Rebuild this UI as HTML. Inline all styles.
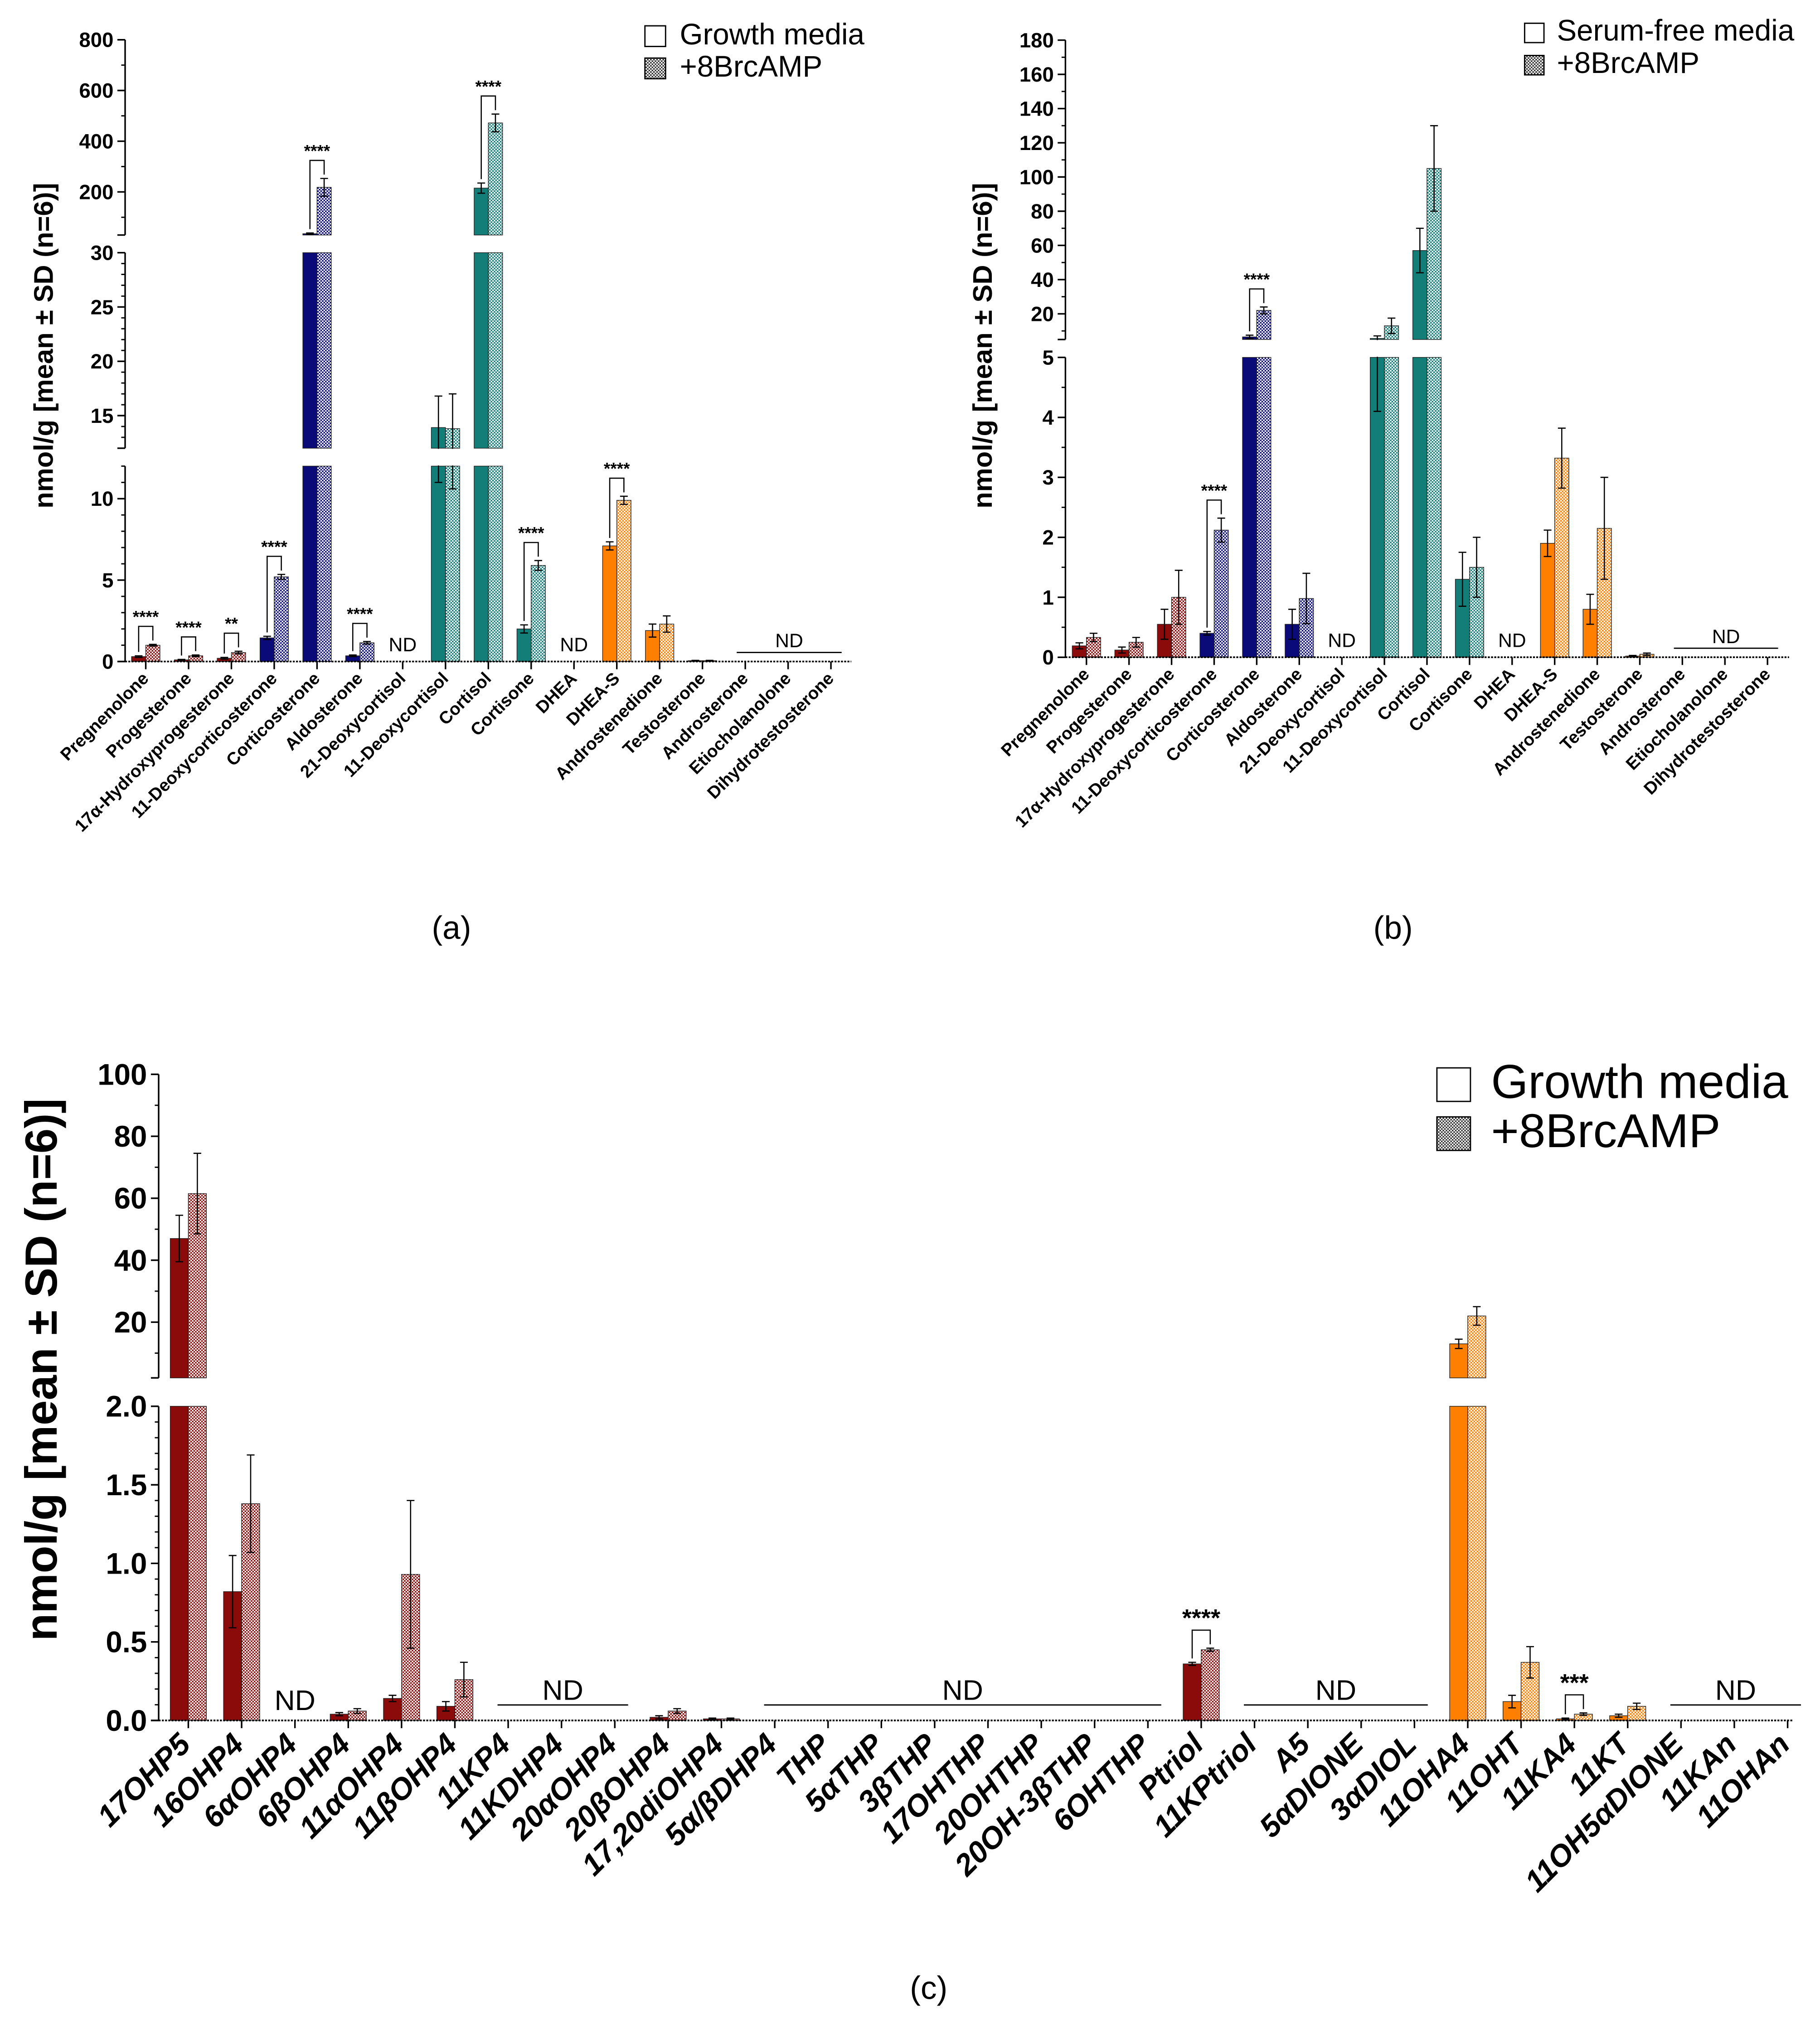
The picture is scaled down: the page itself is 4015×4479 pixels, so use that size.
<!DOCTYPE html>
<html><head><meta charset="utf-8"><style>
html,body{margin:0;padding:0;background:#fff;}
svg{display:block;font-family:"Liberation Sans",sans-serif;}
</style></head><body>
<svg id="chart" width="4015" height="4479" viewBox="0 0 1411 1574" xmlns="http://www.w3.org/2000/svg">
<defs>
<pattern id="chk-red" width="2.4" height="2.4" patternUnits="userSpaceOnUse"><rect width="2.4" height="2.4" fill="#fff"/><rect width="1.2" height="1.2" fill="#8b0a0a"/><rect x="1.2" y="1.2" width="1.2" height="1.2" fill="#8b0a0a"/></pattern>
<pattern id="chk-navy" width="2.4" height="2.4" patternUnits="userSpaceOnUse"><rect width="2.4" height="2.4" fill="#fff"/><rect width="1.2" height="1.2" fill="#0a0a78"/><rect x="1.2" y="1.2" width="1.2" height="1.2" fill="#0a0a78"/></pattern>
<pattern id="chk-teal" width="2.4" height="2.4" patternUnits="userSpaceOnUse"><rect width="2.4" height="2.4" fill="#fff"/><rect width="1.2" height="1.2" fill="#137d78"/><rect x="1.2" y="1.2" width="1.2" height="1.2" fill="#137d78"/></pattern>
<pattern id="chk-orange" width="2.4" height="2.4" patternUnits="userSpaceOnUse"><rect width="2.4" height="2.4" fill="#fff"/><rect width="1.2" height="1.2" fill="#ff8000"/><rect x="1.2" y="1.2" width="1.2" height="1.2" fill="#ff8000"/></pattern>
<pattern id="chk-gray" width="2.4" height="2.4" patternUnits="userSpaceOnUse"><rect width="2.4" height="2.4" fill="#fff"/><rect width="1.2" height="1.2" fill="#333"/><rect x="1.2" y="1.2" width="1.2" height="1.2" fill="#333"/></pattern>
</defs>
</svg>
<script>
// ---------- Panel (a) data ----------
const A_cats = ['Pregnenolone','Progesterone','17α-Hydroxyprogesterone','11-Deoxycorticosterone','Corticosterone','Aldosterone','21-Deoxycortisol','11-Deoxycortisol','Cortisol','Cortisone','DHEA','DHEA-S','Androstenedione','Testosterone','Androsterone','Etiocholanolone','Dihydrotestosterone'];
const A_growth = [0.3,0.1,0.2,1.45,35,0.35,null,13.9,215,2.0,null,7.1,1.9,0.05,null,null,null];
const A_camp = [1.0,0.35,0.55,5.2,218,1.15,null,13.8,472,5.9,null,9.9,2.3,0.05,null,null,null];
const A_growthErr = [0.05,0.03,0.05,0.1,3,0.05,0,2.9,20,0.25,0,0.25,0.4,0.02,0,0,0];
const A_campErr = [0.05,0.05,0.08,0.15,35,0.08,0,3.2,35,0.3,0,0.25,0.5,0.02,0,0,0];
const A_colorIdx = [0,0,0,1,1,1,1,2,2,2,2,3,3,3,3,3,3];
const A_sigIdx = [0,1,2,3,4,5,8,9,11];
const A_sigTxt = ['****','****','**','****','****','****','****','****','****'];
const A_ndSingle = [6,10];
const A_ndLineFrom = [14];
const A_ndLineTo = [16];
// ---------- Panel (b) data ----------
const B_cats = A_cats;
const B_growth = [0.19,0.12,0.55,0.4,6.5,0.55,null,5.6,57,1.3,null,1.9,0.8,0.02,null,null,null];
const B_camp = [0.33,0.25,1.0,2.12,22,0.98,null,13,105,1.5,null,3.32,2.15,0.05,null,null,null];
const B_growthErr = [0.05,0.05,0.25,0.03,1,0.25,0,1.5,13,0.45,0,0.22,0.25,0.01,0,0,0];
const B_campErr = [0.07,0.08,0.45,0.2,2,0.42,0,4.5,25,0.5,0,0.5,0.85,0.02,0,0,0];
const B_colorIdx = A_colorIdx;
const B_sigIdx = [3,4];
const B_sigTxt = ['****','****'];
const B_ndSingle = [6,10];
const B_ndLineFrom = [14];
const B_ndLineTo = [16];
// ---------- Panel (c) data ----------
const C_cats = ['17OHP5','16OHP4','6αOHP4','6βOHP4','11αOHP4','11βOHP4','11KP4','11KDHP4','20αOHP4','20βOHP4','17,20diOHP4','5α/βDHP4','THP','5αTHP','3βTHP','17OHTHP','20OHTHP','20OH-3βTHP','6OHTHP','Ptriol','11KPtriol','A5','5αDIONE','3αDIOL','11OHA4','11OHT','11KA4','11KT','11OH5αDIONE','11KAn','11OHAn'];
const C_growth = [47,0.82,null,0.04,0.14,0.09,null,null,null,0.02,0.01,null,null,null,null,null,null,null,null,0.36,null,null,null,null,13,0.12,0.01,0.03,null,null,null];
const C_camp = [61.5,1.38,null,0.06,0.93,0.26,null,null,null,0.06,0.01,null,null,null,null,null,null,null,null,0.45,null,null,null,null,22,0.37,0.04,0.09,null,null,null];
const C_growthErr = [7.5,0.23,0,0.01,0.02,0.03,0,0,0,0.01,0.005,0,0,0,0,0,0,0,0,0.01,0,0,0,0,1.5,0.04,0.005,0.01,0,0,0];
const C_campErr = [13,0.31,0,0.015,0.47,0.11,0,0,0,0.015,0.005,0,0,0,0,0,0,0,0,0.01,0,0,0,0,3,0.1,0.008,0.02,0,0,0];
const C_colorIdx = [0,0,0,0,0,0,0,0,0,0,0,0,0,0,0,0,0,0,0,0,0,0,0,0,3,3,3,3,3,3,3];
const C_sigIdx = [19,26];
const C_sigTxt = ['****','***'];
const C_ndSingle = [2];
const C_ndLineFrom = [6,11,20,28];
const C_ndLineTo = [8,18,23,30];

const COLORS = ['#8b0a0a','#0a0a78','#137d78','#ff8000'];
const PATS = ['url(#chk-red)','url(#chk-navy)','url(#chk-teal)','url(#chk-orange)'];
const NS = 'http://www.w3.org/2000/svg';
const svg = document.getElementById('chart');
function mk(tag, attrs, parent){
  const e = document.createElementNS(NS, tag);
  for (const k in attrs) e.setAttribute(k, attrs[k]);
  (parent || svg).appendChild(e);
  return e;
}

function drawPanel(p){
  const g = mk('g', {});
  
  
  const segs = p.segs;
  function y(v){
    for (let i = segs.length - 1; i >= 0; i--) {
      const s = segs[i];
      if (v >= s.lo || i === 0) {
        const vv = Math.min(v, s.hi);
        return s.yb - (vv - s.lo) / (s.hi - s.lo) * (s.yb - s.yt);
      }
    }
  }
  function x(i){ return p.x0 + i * p.step; }
  segs.forEach(s => {
    const l = mk('line', {x1:p.ax, x2:p.ax, y1:s.yb, y2:s.yt, stroke:'#000', 'stroke-width':1.2}, g);
    
    
    mk('line', {x1:p.ax-6, x2:p.ax, y1:s.yb, y2:s.yb, stroke:'#000','stroke-width':1.2}, g);
    for (let v = s.minorStart; v <= s.hi + 1e-9; v += s.minor) {
      if (v < s.lo - 1e-9) continue;
      const yy = s.yb - (v - s.lo) / (s.hi - s.lo) * (s.yb - s.yt);
      mk('line', {x1:p.ax-3, x2:p.ax, y1:yy, y2:yy, stroke:'#000','stroke-width':1}, g);
    }
    s.ticks.forEach(v => {
      const yy = s.yb - (v - s.lo) / (s.hi - s.lo) * (s.yb - s.yt);
      mk('line', {x1:p.ax-6, x2:p.ax, y1:yy, y2:yy, stroke:'#000','stroke-width':1.2}, g);
      const t = mk('text', {x:p.ax-9, y:yy + p.tickFs*0.35, 'text-anchor':'end', 'font-size':p.tickFs, 'font-weight':'bold'}, g);
      t.textContent = p.tickFmt(v);
      
      
    });
  });
  const yt = mk('text', {transform:`translate(${p.ytx},${p.yty}) rotate(-90)`, 'text-anchor':'middle', 'font-size':p.ytFs, 'font-weight':'bold'}, g);
  yt.textContent = 'nmol/g [mean ± SD (n=6)]';
  
  
  const y0 = y(0);
  p.cats.forEach((c, i) => {
    const cx = x(i), col = p.colorIdx[i];
    [[p.growth[i], p.growthErr[i], cx - p.bw, COLORS[col], 'growth'], [p.camp[i], p.campErr[i], cx, PATS[col], 'camp']].forEach(b => {
      const v = b[0]; if (v === null) return;
      segs.forEach(s => {
        if (v <= s.lo && s !== segs[0]) return;
        const top = s.yb - (Math.min(v, s.hi) - s.lo) / (s.hi - s.lo) * (s.yb - s.yt);
        const r = mk('rect', {x:b[2], y:top, width:p.bw, height:Math.max(0.6, s.yb - top), fill:b[3], stroke:'#222', 'stroke-width':0.5}, g);
        
        
      });
      const e = b[1];
      if (e > 0) {
        const ex = b[2] + p.bw / 2, yT = y(v + e), yB = y(Math.max(v - e, 0));
        const eb = mk('path', {d:`M${ex},${yB}V${yT}M${ex-3},${yT}H${ex+3}M${ex-3},${yB}H${ex+3}`, stroke:'#000', 'stroke-width':0.9, fill:'none'}, g);
        
        
      }
    });
    mk('line', {x1:cx, x2:cx, y1:y0, y2:y0 + 6, stroke:'#000', 'stroke-width':1.2}, g);
    const lbl = mk('text', {transform:`translate(${cx + 3},${y0 + p.lblDy}) rotate(-45)`, 'text-anchor':'end', 'font-size':p.lblFs, 'font-weight':'bold', 'font-style':p.lblStyle}, g);
    lbl.textContent = c;
    
    
  });
  for (let k = 0; k < segs.length - 1; k++) {
    const m = mk('rect', {x:p.ax + 1, y:segs[k+1].yb + 0.5, width:p.xEnd - p.ax, height:segs[k].yt - segs[k+1].yb - 1, fill:'#fff'}, g);
    
    
  }
  const xa = mk('line', {x1:p.ax, x2:p.xEnd, y1:y0, y2:y0, stroke:'#000', 'stroke-width':1.3, 'stroke-dasharray':'1.5 1'}, g);
  
  
  p.sigIdx.forEach((i, k) => {
    const cx = x(i);
    const gTop = y(p.growth[i] + p.growthErr[i]), cTop = y(p.camp[i] + p.campErr[i]);
    const by = Math.min(gTop, cTop) - p.brH;
    const gx = cx - p.bw / 2, cxx = cx + p.bw / 2;
    const br = mk('path', {d:`M${gx},${gTop - 3}V${by}H${cxx}V${cTop - 3}`, stroke:'#000', 'stroke-width':0.9, fill:'none'}, g);
    
    
    const st = mk('text', {x:cx, y:by - 3, 'text-anchor':'middle', 'font-size':p.starFs, 'font-weight':'bold'}, g);
    st.textContent = p.sigTxt[k];
    
    
  });
  p.ndSingle.forEach(i => {
    const t = mk('text', {x:x(i), y:y0 - 8, 'text-anchor':'middle', 'font-size':p.ndFs}, g);
    t.textContent = 'ND';
    
    
  });
  p.ndLineFrom.forEach((a, k) => {
    const b = p.ndLineTo[k];
    const xl = x(a) - p.step * 0.2, xr = x(b) + p.step * 0.25;
    const ly = y0 - p.ndLineDy;
    const l = mk('line', {x1:xl, x2:xr, y1:ly, y2:ly, stroke:'#000', 'stroke-width':1}, g);
    
    
    const t = mk('text', {x:(xl + xr) / 2, y:ly - 4, 'text-anchor':'middle', 'font-size':p.ndFs}, g);
    t.textContent = 'ND';
    
    
  });
  const lg = mk('g', {}, g);
  
  
  const L = p.leg;
  mk('rect', {x:L.x, y:L.y, width:L.s, height:L.s, fill:'#fff', stroke:'#000', 'stroke-width':1}, lg);
  mk('rect', {x:L.x, y:L.y + L.gap, width:L.s, height:L.s, fill:'url(#chk-gray)', stroke:'#000', 'stroke-width':1}, lg);
  const t1 = mk('text', {x:L.x + L.s + L.tx, y:L.y + L.s * 0.9, 'font-size':L.fs}, lg);
  t1.textContent = L.t1;
  
  
  const t2 = mk('text', {x:L.x + L.s + L.tx, y:L.y + L.gap + L.s * 0.9, 'font-size':L.fs}, lg);
  t2.textContent = '+8BrcAMP';
  
  
  const pl = mk('text', {x:p.plx, y:p.ply, 'text-anchor':'middle', 'font-size':25}, g);
  pl.textContent = p.pl;
  
  
}

drawPanel({name:'panel-a', cats:A_cats, growth:A_growth, camp:A_camp, growthErr:A_growthErr, campErr:A_campErr, colorIdx:A_colorIdx,
  sigIdx:A_sigIdx, sigTxt:A_sigTxt, ndSingle:A_ndSingle, ndLineFrom:A_ndLineFrom, ndLineTo:A_ndLineTo,
  segs:[{lo:0,hi:12,yb:512.9,yt:361.4,ticks:[0,5,10],minor:1,minorStart:0},
        {lo:12,hi:30,yb:347.5,yt:195.9,ticks:[15,20,25,30],minor:1,minorStart:12},
        {lo:30,hi:800,yb:182.2,yt:30.8,ticks:[200,400,600,800],minor:100,minorStart:100}],
  ax:97, xEnd:660, x0:113, step:33.2, bw:11, tickFs:16, tickFmt:v=>String(v),
  ytx:41, yty:268, ytFs:21, lblFs:13.5, lblDy:14, lblStyle:'normal', brH:14, starFs:13, ndFs:15, ndLineDy:7,
  leg:{x:500, y:20, s:16, gap:25, tx:11, fs:23, t1:'Growth media'}, plx:350, ply:728, pl:'(a)'});

drawPanel({name:'panel-b', cats:B_cats, growth:B_growth, camp:B_camp, growthErr:B_growthErr, campErr:B_campErr, colorIdx:B_colorIdx,
  sigIdx:B_sigIdx, sigTxt:B_sigTxt, ndSingle:B_ndSingle, ndLineFrom:B_ndLineFrom, ndLineTo:B_ndLineTo,
  segs:[{lo:0,hi:5,yb:509.6,yt:277.1,ticks:[0,1,2,3,4,5],minor:0.5,minorStart:0},
        {lo:5,hi:180,yb:263.2,yt:31.1,ticks:[20,40,60,80,100,120,140,160,180],minor:10,minorStart:10}],
  ax:826, xEnd:1387, x0:842.3, step:33.0, bw:11, tickFs:16, tickFmt:v=>String(v),
  ytx:769, yty:268, ytFs:21, lblFs:13.5, lblDy:14, lblStyle:'normal', brH:14, starFs:13, ndFs:15, ndLineDy:7,
  leg:{x:1182, y:18, s:15, gap:25, tx:10, fs:23, t1:'Serum-free media'}, plx:1080, ply:728, pl:'(b)'});

drawPanel({name:'panel-c', cats:C_cats, growth:C_growth, camp:C_camp, growthErr:C_growthErr, campErr:C_campErr, colorIdx:C_colorIdx,
  sigIdx:C_sigIdx, sigTxt:C_sigTxt, ndSingle:C_ndSingle, ndLineFrom:C_ndLineFrom, ndLineTo:C_ndLineTo,
  segs:[{lo:0,hi:2,yb:1334,yt:1090.4,ticks:[0,0.5,1,1.5,2],minor:0.1,minorStart:0},
        {lo:2,hi:100,yb:1068.4,yt:833,ticks:[20,40,60,80,100],minor:10,minorStart:10}],
  ax:123, xEnd:1390, x0:146, step:41.33, bw:14, tickFs:23, tickFmt:v=>(v<=2 ? v.toFixed(1) : String(v)),
  ytx:44, yty:1062, ytFs:35, lblFs:23.5, lblDy:20, lblStyle:'italic', brH:14, starFs:19, ndFs:22, ndLineDy:12,
  leg:{x:1114, y:828, s:26, gap:38, tx:16, fs:37, t1:'Growth media'}, plx:720, ply:1550, pl:'(c)'});
</script>
</body></html>
